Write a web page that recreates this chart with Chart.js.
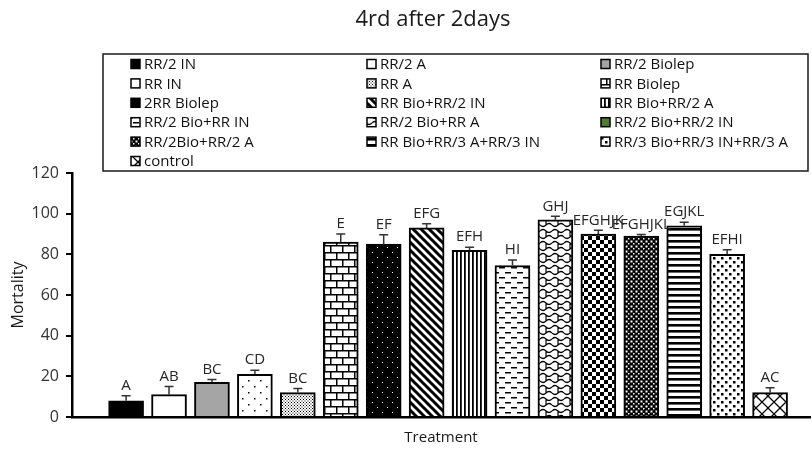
<!DOCTYPE html>
<html>
<head>
<meta charset="utf-8">
<script src="https://cdn.jsdelivr.net/npm/chart.js@4"></script>
<style>
  html, body { margin: 0; padding: 0; background: #fff; }
</style>
</head>
<body>
<canvas id="c" width="812" height="449"></canvas>
<script>
const chartTitle = '4rd after 2days';
const treatments = ['RR/2 IN', 'RR/2 A', 'RR/2 Biolep', 'RR IN', 'RR A', 'RR Biolep', '2RR Biolep',
    'RR Bio+RR/2 IN', 'RR Bio+RR/2 A', 'RR/2 Bio+RR IN', 'RR/2 Bio+RR A', 'RR/2 Bio+RR/2 IN',
    'RR/2Bio+RR/2 A', 'RR Bio+RR/3 A+RR/3 IN', 'RR/3 Bio+RR/3 IN+RR/3 A', 'control'];
const mortality = [8, 11, 17, 21, 12, 86, 85, 93, 82, 74.5, 97, 90, 89, 94, 80, 12];
const stdErr = [2.5, 4, 1.5, 2, 2, 4, 4.6, 2, 1.5, 2.7, 1.7, 1.8, 0.8, 1.8, 2.2, 2.4];
const groups = ['A', 'AB', 'BC', 'CD', 'BC', 'E', 'EF', 'EFG', 'EFH', 'HI', 'GHJ', 'EFGHJK', 'EFGHJKL', 'EGJKL', 'EFHI', 'AC'];
const barFills = ['solid', 'white', 'gray', 'sparseDots', 'stipple', 'brick', 'blackDots', 'diagonal',
    'vertical', 'dashes', 'shingle', 'checker', 'fineChecker', 'horizontal', 'blobs', 'diamond'];
const legendFills = ['solid', 'white', 'gray', 'white', 'stipple', 'brick', 'solid', 'diagonal',
    'vertical', 'dashes', 'shingle', 'green', 'fineChecker', 'horizontal', 'blobs', 'diamond'];

const canvas = document.getElementById('c');
const mainCtx = canvas.getContext('2d');

// small tiles repeated as canvas patterns (Excel style pattern fills)
function makeFill(kind) {
    if (kind === 'solid') return '#000';
    if (kind === 'white') return '#fff';
    if (kind === 'gray') return '#a5a5a5';
    if (kind === 'green') return '#4f7f2e';
    const sizes = {
        sparseDots: [12, 12], stipple: [3, 3], brick: [24, 14], blackDots: [10, 10],
        diagonal: [8, 8], vertical: [4, 4], dashes: [12, 10], shingle: [12, 12],
        checker: [8, 8], fineChecker: [5, 5], horizontal: [6, 6], blobs: [8, 8], diamond: [12, 12]
    };
    const [w, h] = sizes[kind];
    const tile = document.createElement('canvas');
    tile.width = w;
    tile.height = h;
    const g = tile.getContext('2d');
    g.fillStyle = '#fff';
    g.fillRect(0, 0, w, h);
    g.fillStyle = '#000';
    g.strokeStyle = '#000';
    switch (kind) {
        case 'sparseDots':
            g.fillRect(2, 2, 1.5, 1.5);
            g.fillRect(8, 8, 1.5, 1.5);
            break;
        case 'stipple':
            g.fillRect(0, 0, 1, 1);
            g.fillRect(1.5, 1.5, 1, 1);
            break;
        case 'brick':
            g.lineWidth = 1.5;
            g.beginPath();
            g.moveTo(0, 0.75); g.lineTo(24, 0.75);
            g.moveTo(0, 7.75); g.lineTo(24, 7.75);
            g.moveTo(0.75, 0); g.lineTo(0.75, 7);
            g.moveTo(12.75, 0); g.lineTo(12.75, 7);
            g.moveTo(6.75, 7); g.lineTo(6.75, 14);
            g.moveTo(18.75, 7); g.lineTo(18.75, 14);
            g.stroke();
            break;
        case 'blackDots':
            g.fillRect(0, 0, w, h);
            g.fillStyle = '#fff';
            g.fillRect(2, 2, 1, 1);
            g.fillRect(7, 7, 1, 1);
            break;
        case 'diagonal':
            g.lineWidth = 3;
            g.beginPath();
            g.moveTo(-2, -2); g.lineTo(10, 10);
            g.moveTo(-6, 2); g.lineTo(2, 10);
            g.moveTo(6, -2); g.lineTo(14, 6);
            g.stroke();
            break;
        case 'vertical':
            g.fillRect(0, 0, 1.8, h);
            break;
        case 'dashes':
            g.fillRect(1, 2, 6, 1.5);
            g.fillRect(7, 7, 5, 1.5);
            g.fillRect(0, 7, 1, 1.5);
            break;
        case 'shingle':
            g.lineWidth = 1.2;
            g.beginPath();
            g.moveTo(0, 3); g.quadraticCurveTo(3, 0, 6, 3); g.quadraticCurveTo(9, 6, 12, 3);
            g.moveTo(0, 9); g.quadraticCurveTo(3, 12, 6, 9); g.quadraticCurveTo(9, 6, 12, 9);
            g.moveTo(6, 3); g.lineTo(6, 9);
            g.stroke();
            break;
        case 'checker':
            g.fillRect(0, 0, 4, 4);
            g.fillRect(4, 4, 4, 4);
            break;
        case 'fineChecker':
            g.fillRect(0, 0, w, h);
            g.fillStyle = '#fff';
            g.fillRect(0.5, 0.5, 2, 2);
            g.fillRect(3, 3, 1.5, 1.5);
            break;
        case 'horizontal':
            g.fillRect(0, 0, w, 2.6);
            break;
        case 'blobs':
            g.fillRect(1, 1, 2.5, 2.5);
            g.fillRect(5, 5, 2.5, 2.5);
            break;
        case 'diamond':
            g.lineWidth = 1.3;
            g.beginPath();
            g.moveTo(0, 0); g.lineTo(12, 12);
            g.moveTo(12, 0); g.lineTo(0, 12);
            g.stroke();
            break;
    }
    return mainCtx.createPattern(tile, 'repeat');
}

const barPatterns = barFills.map(makeFill);
const legendPatterns = legendFills.map(makeFill);

// title and the boxed 3-column legend
const headerPlugin = {
    id: 'header',
    afterDraw(chart) {
        const ctx = chart.ctx;
        ctx.save();
        ctx.fillStyle = '#1a1a1a';
        ctx.font = '22px "Open Sans"';
        ctx.textAlign = 'center';
        ctx.textBaseline = 'middle';
        ctx.fillText(chartTitle, 433, 20);

        ctx.strokeStyle = '#1a1a1a';
        ctx.lineWidth = 1.5;
        ctx.strokeRect(103, 54, 705, 117);

        const colX = [131, 367, 601];
        const rowH = 19.4;
        ctx.font = '15px "Open Sans"';
        ctx.textAlign = 'left';
        treatments.forEach((name, i) => {
            const cx = colX[i % 3];
            const cy = 64 + Math.floor(i / 3) * rowH;
            ctx.fillStyle = legendPatterns[i];
            ctx.fillRect(cx, cy - 4.5, 9, 9);
            ctx.lineWidth = 1.5;
            ctx.strokeStyle = '#000';
            ctx.strokeRect(cx, cy - 4.5, 9, 9);
            ctx.fillStyle = '#111';
            ctx.fillText(name, cx + 13, cy + 1);
        });
        ctx.restore();
    }
};

// upper error bars and significance letters
const extrasPlugin = {
    id: 'extras',
    afterDatasetsDraw(chart) {
        const { ctx, scales: { x, y } } = chart;
        ctx.save();
        ctx.font = '15px "Open Sans"';
        ctx.textAlign = 'center';
        ctx.textBaseline = 'middle';
        mortality.forEach((v, i) => {
            const px = x.getPixelForValue(i + 1);
            const top = y.getPixelForValue(v);
            const end = y.getPixelForValue(v + stdErr[i]);
            ctx.strokeStyle = '#333';
            ctx.lineWidth = 1.5;
            ctx.beginPath();
            ctx.moveTo(px, top);
            ctx.lineTo(px, end);
            ctx.moveTo(px - 4.5, end);
            ctx.lineTo(px + 4.5, end);
            ctx.stroke();
            ctx.fillStyle = '#262626';
            ctx.fillText(groups[i], px, end - 10);
        });
        ctx.restore();
    }
};

new Chart(canvas, {
    type: 'bar',
    data: {
        datasets: [{
            data: mortality.map((v, i) => ({ x: i + 1, y: v })),
            backgroundColor: barPatterns,
            borderColor: '#000',
            borderWidth: 2,
            barThickness: 35
        }]
    },
    options: {
        responsive: false,
        animation: false,
        layout: { padding: { top: 173, right: 2, bottom: 0, left: 0 } },
        plugins: {
            legend: { display: false },
            title: { display: false },
            tooltip: { enabled: false }
        },
        scales: {
            x: {
                type: 'linear',
                offset: false,
                min: -0.26,
                max: 16.93,
                ticks: { display: false },
                grid: { display: false },
                border: { display: true, color: '#000', width: 2.5 },
                title: {
                    display: true, text: 'Treatment', color: '#1a1a1a',
                    font: { family: 'Open Sans', size: 15 }, padding: { top: 0, bottom: 2 }
                },
                afterFit(scale) { scale.height = 32; }
            },
            y: {
                min: 0,
                max: 120,
                ticks: { stepSize: 20, color: '#333', padding: 7, font: { family: 'Open Sans', size: 16 } },
                grid: { drawOnChartArea: false, drawTicks: true, tickLength: 6, color: '#000', lineWidth: 2 },
                border: { display: true, color: '#000', width: 2.5 },
                title: {
                    display: true, text: 'Mortality', color: '#1a1a1a',
                    font: { family: 'Open Sans', size: 16 }, padding: { top: 9, bottom: 0 }
                },
                afterFit(scale) { scale.width = 72; }
            }
        }
    },
    plugins: [extrasPlugin, headerPlugin]
});
</script>
</body>
</html>
